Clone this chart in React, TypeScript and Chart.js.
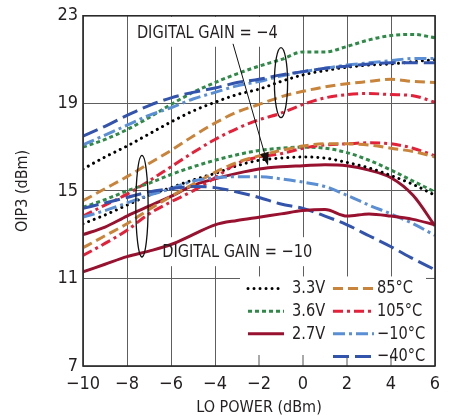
import React, { useEffect, useRef } from 'react';
import { Chart, registerables } from 'chart.js';

Chart.register(...registerables);

// ---------- data ----------
const loPower = [-10, -9, -8, -7, -6, -5, -4, -3, -2, -1, 0, 1, 2, 3, 4, 5, 6];

// DIGITAL GAIN = -4
const v36_g4 = [17.0, 17.35, 17.8, 18.35, 18.95, 19.5, 19.95, 20.35, 20.7, 21.0, 21.35, 21.35, 21.6, 21.9, 22.1, 22.15, 22.0];
const m40_g4 = [17.5, 17.95, 18.45, 18.9, 19.25, 19.5, 19.7, 19.95, 20.1, 20.3, 20.45, 20.6, 20.7, 20.8, 20.85, 20.85, 20.85];
const m10_g4 = [17.1, 17.55, 18.0, 18.45, 18.8, 19.2, 19.5, 19.8, 20.0, 20.25, 20.45, 20.6, 20.75, 20.85, 20.95, 21.05, 21.05];
const v33_g4 = [16.0, 16.55, 17.05, 17.6, 18.15, 18.65, 19.05, 19.4, 19.65, 20.0, 20.3, 20.5, 20.65, 20.75, 20.8, 20.9, 21.0];
const t85_g4 = [14.55, 15.1, 15.65, 16.25, 16.85, 17.5, 18.1, 18.6, 18.95, 19.3, 19.55, 19.75, 19.9, 20.0, 20.1, 20.0, 19.95];
const t105_g4 = [13.85, 14.35, 14.85, 15.45, 16.1, 16.75, 17.35, 17.85, 18.25, 18.55, 18.95, 19.25, 19.4, 19.45, 19.4, 19.35, 19.05];
const v27_g4 = [13.0, 13.35, 13.85, 14.3, 14.75, 15.25, 15.55, 15.8, 16.0, 16.1, 16.15, 16.2, 16.15, 15.95, 15.6, 14.8, 13.4];

// DIGITAL GAIN = -10
const v36_g10 = [14.25, 14.6, 15.0, 15.35, 15.75, 16.1, 16.4, 16.65, 16.85, 16.95, 17.0, 16.95, 16.75, 16.4, 15.95, 15.45, 14.95];
const v33_g10 = [13.5, 13.9, 14.35, 14.8, 15.15, 15.5, 15.8, 16.15, 16.4, 16.5, 16.55, 16.5, 16.3, 16.05, 15.7, 15.3, 14.8];
const t105_g10 = [12.05, 12.6, 13.2, 13.95, 14.5, 15.0, 15.6, 16.25, 16.55, 16.7, 16.95, 17.1, 17.15, 17.2, 17.15, 16.95, 16.6];
const t85_g10 = [12.4, 12.95, 13.5, 14.15, 14.75, 15.3, 15.85, 16.3, 16.6, 16.85, 17.05, 17.15, 17.15, 17.1, 16.95, 16.8, 16.55];
const m40_g10 = [14.2, 14.45, 14.7, 14.95, 15.1, 15.2, 15.15, 14.95, 14.7, 14.4, 14.2, 13.85, 13.45, 12.95, 12.45, 11.9, 11.4];
const m10_g10 = [13.8, 14.1, 14.45, 14.8, 15.1, 15.45, 15.6, 15.65, 15.65, 15.55, 15.4, 15.2, 14.8, 14.35, 13.95, 13.5, 12.97];
const v27_g10 = [11.3, 11.65, 12.0, 12.25, 12.55, 13.0, 13.45, 13.65, 13.8, 13.95, 14.1, 14.15, 13.85, 13.95, 13.85, 13.7, 13.45];

const xTicks = [-10, -8, -6, -4, -2, 0, 2, 4, 6];
const yTicks = [7, 11, 15, 19, 23];

const legendLeftCol = ['3.3V', '3.6V', '2.7V'];
const legendRightCol = ['85°C', '105°C', '−10°C', '−40°C'];

const gain4Label = 'DIGITAL GAIN = −4';
const gain10Label = 'DIGITAL GAIN = −10';

// ---------- styles ----------
const FONT = "'DejaVu Sans Condensed','Liberation Sans Narrow',sans-serif";
const TEXT = '#231f20';
const SQUEEZE = 0.9;

type Style = { color: string; dash: number[]; width: number; cap: CanvasLineCap };
const styles: Record<string, Style> = {
  '3.3V': { color: '#000000', dash: [0.01, 6], width: 3, cap: 'round' },
  '3.6V': { color: '#2f8a48', dash: [4, 3], width: 3, cap: 'butt' },
  '2.7V': { color: '#98112f', dash: [], width: 3, cap: 'butt' },
  '85°C': { color: '#c98439', dash: [10, 5], width: 3, cap: 'butt' },
  '105°C': { color: '#e5213a', dash: [10, 4, 3, 4], width: 3, cap: 'butt' },
  '−10°C': { color: '#5b8fd5', dash: [12, 4, 3, 4], width: 3, cap: 'butt' },
  '−40°C': { color: '#3354ad', dash: [16, 6], width: 3, cap: 'butt' },
};

const series: [string, number[]][] = [
  ['2.7V', v27_g10],
  ['−40°C', m40_g10],
  ['−10°C', m10_g10],
  ['85°C', t85_g10],
  ['105°C', t105_g10],
  ['3.6V', v36_g10],
  ['3.3V', v33_g10],
  ['2.7V', v27_g4],
  ['85°C', t85_g4],
  ['105°C', t105_g4],
  ['−40°C', m40_g4],
  ['−10°C', m10_g4],
  ['3.6V', v36_g4],
  ['3.3V', v33_g4],
];

const fmt = (v: number) => (v < 0 ? '\u2212' + Math.abs(v) : String(v));

const squeezedText = (ctx: CanvasRenderingContext2D, s: string, x: number, y: number) => {
  ctx.save();
  ctx.translate(x, y);
  ctx.scale(SQUEEZE, 1);
  ctx.fillText(s, 0, 0);
  ctx.restore();
};

const annotPlugin = {
  id: 'annot',
  beforeDatasetsDraw(chart: any) {
    const { ctx, scales, chartArea } = chart;
    const x = scales.x, y = scales.y;
    ctx.save();
    ctx.font = `18px ${FONT}`;
    ctx.fillStyle = '#ffffff';
    const t4x = x.getPixelForValue(-7.55), t4y = y.getPixelForValue(22.18);
    const w4 = ctx.measureText(gain4Label).width * SQUEEZE;
    ctx.fillRect(t4x - 4, chartArea.top + 1, w4 + 8, t4y + 12 - chartArea.top);
    const t10x = x.getPixelForValue(-6.4), t10y = y.getPixelForValue(12.2);
    const w10 = ctx.measureText(gain10Label).width * SQUEEZE;
    ctx.fillRect(t10x - 5, t10y - 15, w10 + 10, 29);
    const lx = chartArea.right - 195;
    const ly = y.getPixelForValue(11) - 2;
    ctx.fillRect(lx, ly, chartArea.right - lx, chartArea.bottom - ly);
    ctx.strokeStyle = '#555';
    ctx.lineWidth = 1;
    xTicks.forEach((v) => {
      const px = x.getPixelForValue(v);
      if (px > lx && px < chartArea.right - 2) {
        ctx.beginPath();
        ctx.moveTo(px, chartArea.bottom);
        ctx.lineTo(px, chartArea.bottom - 11);
        ctx.stroke();
      }
    });
    const p11 = y.getPixelForValue(11);
    ctx.beginPath();
    ctx.moveTo(chartArea.right, p11);
    ctx.lineTo(chartArea.right - 9, p11);
    ctx.stroke();
    ctx.restore();
  },
  afterDatasetsDraw(chart: any) {
    const { ctx, scales, chartArea } = chart;
    const x = scales.x, y = scales.y;
    ctx.save();
    ctx.fillStyle = TEXT;
    ctx.strokeStyle = '#111';
    ctx.font = `18px ${FONT}`;
    ctx.textBaseline = 'middle';
    ctx.textAlign = 'left';
    squeezedText(ctx, gain4Label, x.getPixelForValue(-7.55), y.getPixelForValue(22.18));
    squeezedText(ctx, gain10Label, x.getPixelForValue(-6.4), y.getPixelForValue(12.2));

    const sx = x.getPixelForValue(1) - x.getPixelForValue(0);
    const sy = y.getPixelForValue(0) - y.getPixelForValue(1);
    ctx.lineWidth = 1.3;
    ctx.beginPath();
    ctx.ellipse(x.getPixelForValue(-1.0), y.getPixelForValue(19.95), 0.3 * sx, 1.6 * sy, 0, 0, Math.PI * 2);
    ctx.stroke();
    ctx.beginPath();
    ctx.ellipse(x.getPixelForValue(-7.32), y.getPixelForValue(14.3), 0.28 * sx, 2.32 * sy, 0, 0, Math.PI * 2);
    ctx.stroke();

    const ax0 = x.getPixelForValue(-3.18), ay0 = y.getPixelForValue(21.72);
    const ax1 = x.getPixelForValue(-1.59), ay1 = y.getPixelForValue(16.16);
    const ang = Math.atan2(ay1 - ay0, ax1 - ax0);
    const hl = 13, hw = 4.5;
    const bx = ax1 - hl * Math.cos(ang), by = ay1 - hl * Math.sin(ang);
    ctx.lineWidth = 1;
    ctx.beginPath();
    ctx.moveTo(ax0, ay0);
    ctx.lineTo(bx, by);
    ctx.stroke();
    ctx.beginPath();
    ctx.moveTo(ax1, ay1);
    ctx.lineTo(bx + hw * Math.sin(ang), by - hw * Math.cos(ang));
    ctx.lineTo(bx - hw * Math.sin(ang), by + hw * Math.cos(ang));
    ctx.closePath();
    ctx.fillStyle = '#111';
    ctx.fill();

    const lx = chartArea.right - 195;
    const ly = y.getPixelForValue(11) - 2;
    const rowH = 22.7;
    const drawItem = (label: string, x0: number, x1: number, tx: number, cy: number) => {
      const st = styles[label];
      ctx.save();
      ctx.strokeStyle = st.color;
      ctx.lineWidth = st.width;
      ctx.lineCap = st.cap;
      ctx.setLineDash(st.dash);
      ctx.beginPath();
      ctx.moveTo(x0, cy);
      ctx.lineTo(x1, cy);
      ctx.stroke();
      ctx.restore();
      ctx.fillStyle = TEXT;
      squeezedText(ctx, label, tx, cy);
    };
    legendLeftCol.forEach((lab, i) => drawItem(lab, lx + 8, lx + 44, lx + 52, ly + 12 + i * rowH));
    legendRightCol.forEach((lab, i) => drawItem(lab, lx + 93, lx + 134, lx + 137, ly + 12 + i * rowH));

    ctx.strokeStyle = '#2a2a2a';
    ctx.lineWidth = 1.6;
    ctx.setLineDash([]);
    ctx.strokeRect(chartArea.left, chartArea.top, chartArea.right - chartArea.left, chartArea.bottom - chartArea.top);
    ctx.restore();
  },
};

export default function App() {
  const ref = useRef<HTMLCanvasElement | null>(null);
  useEffect(() => {
    if (!ref.current) return;
    const datasets = series.map(([label, vals]) => {
      const st = styles[label];
      return {
        label,
        data: loPower.map((xv, i) => ({ x: xv, y: vals[i] })),
        borderColor: st.color,
        backgroundColor: st.color,
        borderWidth: st.width,
        borderDash: st.dash,
        borderCapStyle: st.cap,
        pointRadius: 0,
        fill: false,
        cubicInterpolationMode: 'monotone' as const,
      };
    });
    const chart = new Chart(ref.current, {
      type: 'line',
      data: { datasets },
      options: {
        animation: false,
        responsive: false,
        devicePixelRatio: 1,
        layout: { padding: { left: 0, right: 24, top: 15, bottom: 0 } },
        plugins: { legend: { display: false }, tooltip: { enabled: false } },
        scales: {
          x: {
            type: 'linear',
            min: -10,
            max: 6,
            afterBuildTicks: (s: any) => { s.ticks = xTicks.map((v) => ({ value: v })); },
            afterFit: (s: any) => { s.height = 53; },
            grid: { color: '#5e5e5e', lineWidth: 1, drawTicks: false },
            border: { display: false },
            ticks: {
              padding: 8,
              color: TEXT,
              font: { family: FONT, size: 18 },
              maxRotation: 0,
              autoSkip: false,
              callback: (v: any) => fmt(Number(v)),
            },
            title: {
              display: true,
              text: 'LO POWER (dBm)',
              color: TEXT,
              font: { family: FONT, size: 16 },
              padding: { top: 0, bottom: 2 },
            },
          },
          y: {
            type: 'linear',
            min: 7,
            max: 23,
            afterBuildTicks: (s: any) => { s.ticks = yTicks.map((v) => ({ value: v })); },
            afterFit: (s: any) => { s.width = 83; },
            grid: { color: '#5e5e5e', lineWidth: 1, drawTicks: false },
            border: { display: false },
            ticks: {
              padding: 5,
              color: TEXT,
              font: { family: FONT, size: 18 },
              autoSkip: false,
              callback: (v: any) => fmt(Number(v)),
            },
            title: {
              display: true,
              text: 'OIP3 (dBm)',
              color: TEXT,
              font: { family: FONT, size: 16 },
              padding: { top: 13, bottom: 0 },
            },
          },
        },
      },
      plugins: [annotPlugin],
    });
    return () => chart.destroy();
  }, []);
  return (
    <div style={{ position: 'fixed', left: 0, top: 0, width: 459, height: 419, background: '#fff' }}>
      <canvas ref={ref} width={459} height={419} style={{ display: 'block' }} />
    </div>
  );
}
